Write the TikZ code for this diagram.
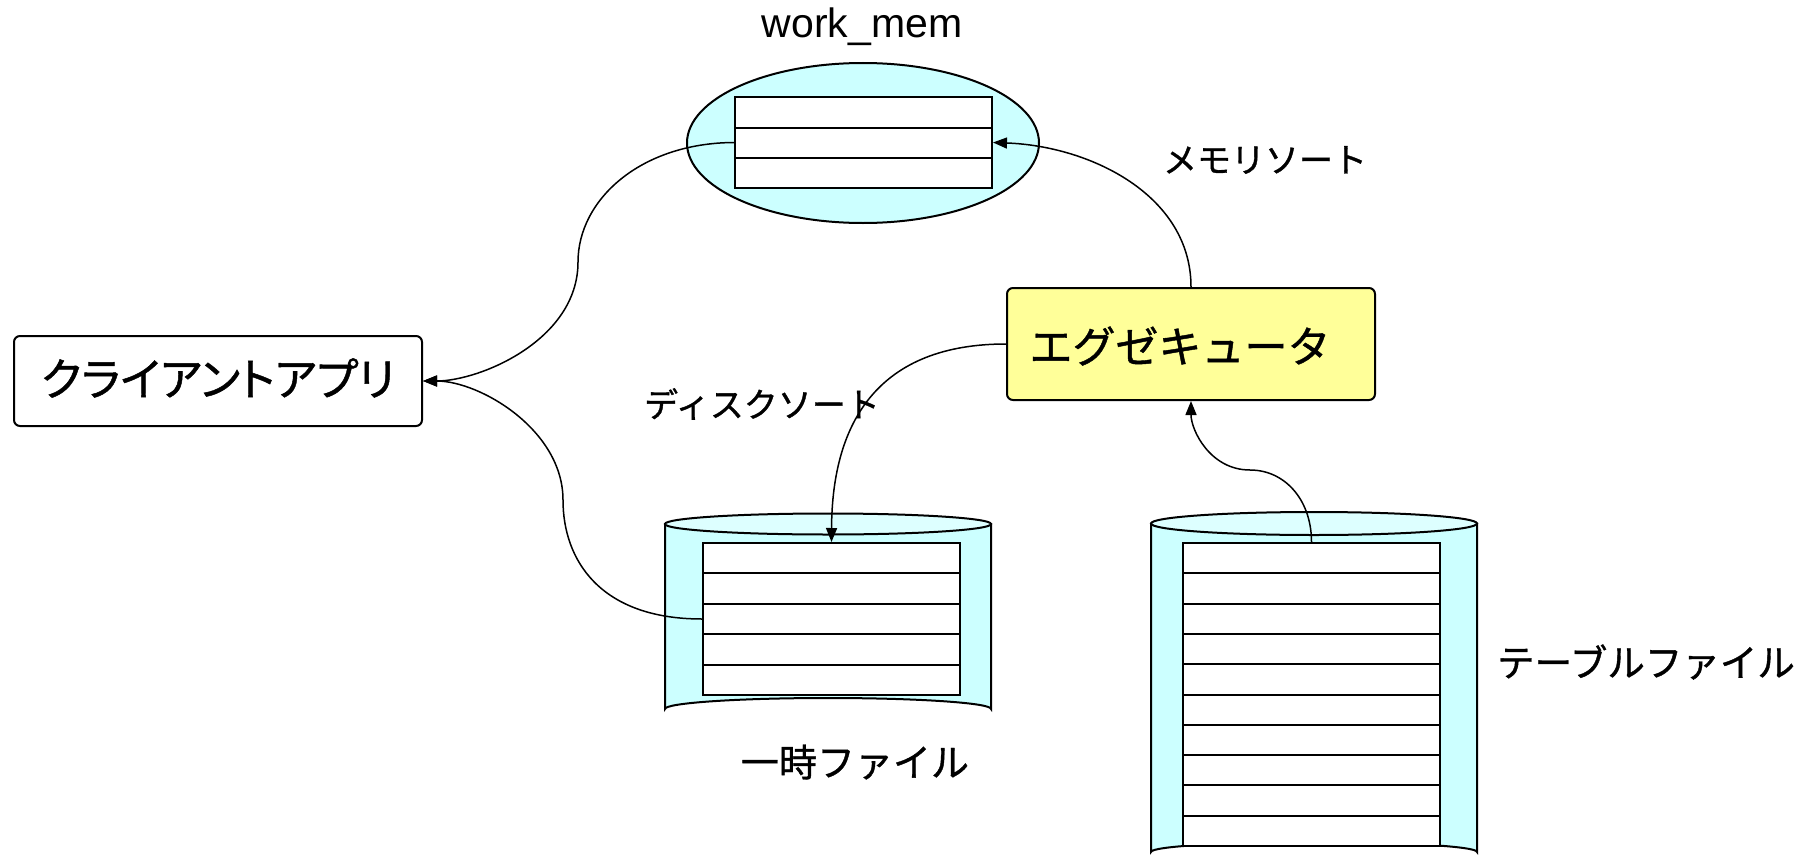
\documentclass[tikz,border=0pt]{standalone}
\usepackage{fontspec}
\setmainfont{Liberation Sans}
\newfontfamily\jp{Noto Sans CJK JP}[FakeBold=1]
\newfontfamily\jpp{Noto Sans CJK JP}[RawFeature=+palt,FakeBold=1]
\usetikzlibrary{arrows.meta,shapes.geometric}
\definecolor{cyanfill}{HTML}{CCFFFF}
\definecolor{cyantop}{HTML}{DDFFFF}
\definecolor{yelfill}{HTML}{FFFF99}
\tikzset{
  box/.style={draw, line width=2pt, rounded corners=6pt, inner sep=0pt, anchor=center},
  rowbox/.style={draw, line width=2pt, fill=white, inner sep=0pt, minimum width=257pt},
  rowline/.style={line width=2pt},
  cyl/.style={draw, line width=2pt, fill=cyanfill},
  conn/.style={line width=1.5pt, -{Triangle[length=14pt,width=11pt]}},
  lbl/.style={inner sep=0pt, anchor=center}
}
\begin{document}
\begin{tikzpicture}[x=1pt,y=-1pt]
\useasboundingbox (0,0) rectangle (1809,859);

% work_mem ellipse
\node[ellipse, draw, line width=2pt, fill=cyanfill, minimum width=352pt, minimum height=160pt, inner sep=0pt] (wm) at (863,143) {};
\node[rowbox, minimum height=91pt] (wmr) at (863.5,142.5) {};
\draw[rowline] (wmr.west |- 0,127.5) -- (wmr.east |- 0,127.5);
\draw[rowline] (wmr.west |- 0,157.5) -- (wmr.east |- 0,157.5);
\node[lbl, font=\fontsize{41}{48}\selectfont] (wmlbl) at (862,27) {work\_mem};

% executor
\node[box, fill=yelfill, minimum width=368pt, minimum height=112pt] (exec) at (1191,344) {};
\node[lbl, font=\jp\fontsize{43}{50}\selectfont] (exectxt) at (1180,346) {エグゼキュータ};

% client
\node[box, fill=white, minimum width=408pt, minimum height=90pt] (client) at (218,381) {};
\node[lbl, font=\jpp\fontsize{45}{52}\selectfont] (clienttxt) at (218,378) {クライアントアプリ};

% temp file cylinder
\path[cyl] (665,524) -- (665,709) arc[start angle=180, end angle=360, x radius=163, y radius=11] -- (991,524) -- cycle;
\draw[line width=2pt, fill=cyantop] (828,524) ellipse[x radius=163, y radius=10.5];
\node[rowbox, minimum height=152pt] (tmp) at (831.5,619) {};
\foreach \yy in {573.4,603.8,634.2,664.6}
  \draw[rowline] (tmp.west |- 0,\yy) -- (tmp.east |- 0,\yy);
\node[lbl, font=\jp\fontsize{38}{44}\selectfont] (tmplbl) at (855,762) {一時ファイル};

% table file cylinder
\path[cyl] (1151,523.5) -- (1151,852) arc[start angle=180, end angle=360, x radius=163, y radius=10] -- (1477,523.5) -- cycle;
\draw[line width=2pt, fill=cyantop] (1314,523.5) ellipse[x radius=163, y radius=11.5];
\node[rowbox, minimum height=303pt] (tbl) at (1311.5,694.5) {};
\foreach \k in {1,...,9}
  \draw[rowline] (tbl.west |- 0,543+\k*30.3) -- (tbl.east |- 0,543+\k*30.3);
\node[lbl, font=\jp\fontsize{37.5}{44}\selectfont] (tbllbl) at (1646,662) {テーブルファイル};

% labels
\node[lbl, font=\jp\fontsize{34}{40}\selectfont] (memsort) at (1265,160) {メモリソート};
\node[lbl, font=\jp\fontsize{34}{40}\selectfont] (disksort) at (762,404) {ディスクソート};

% connectors
\draw[conn] (exec.north) .. controls (1191,195) and (1090,146) .. (wmr.east);
\draw[conn] (wmr.west) .. controls (640,143) and (578,200) .. (578,262) .. controls (578,340) and (480,381) .. (client.east);
\draw[conn] (exec.west) .. controls (880,344) and (832,420) .. (tmp.north);
\draw[conn] (tmp.west) .. controls (600,619) and (563,560) .. (563,500) .. controls (563,430) and (480,381) .. (client.east);
\draw[conn] (tbl.north) .. controls (1311.5,500) and (1285,470) .. (1250,470) .. controls (1210,470) and (1191,430) .. (exec.south);
\end{tikzpicture}
\end{document}
